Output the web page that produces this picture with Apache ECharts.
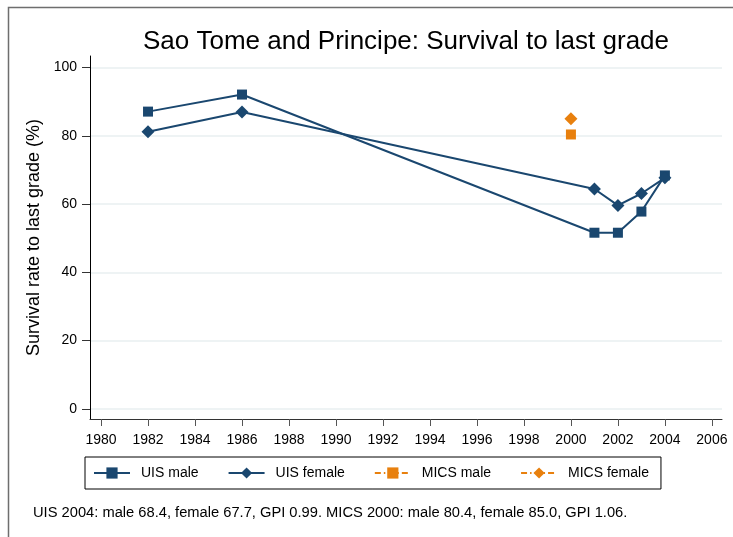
<!DOCTYPE html>
<html>
<head>
<meta charset="utf-8">
<script src="https://cdn.jsdelivr.net/npm/echarts@6/dist/echarts.min.js"></script>
<style>
html,body{margin:0;padding:0;background:#fff;}
#chart{width:733px;height:537px;}
</style>
</head>
<body>
<div id="chart"></div>
<script>
// ---- data ----
const uisYears = [1982, 1986, 2001, 2002, 2003, 2004];
const uisMale = [87.1, 92.1, 51.6, 51.6, 57.8, 68.4];
const uisFemale = [81.2, 87.0, 64.4, 59.6, 63.1, 67.7];
const micsYears = [2000];
const micsMale = [80.4];
const micsFemale = [85.0];
const xTicks = [1980,1982,1984,1986,1988,1990,1992,1994,1996,1998,2000,2002,2004,2006];
const yTicks = [0,20,40,60,80,100];
const seriesNames = ['UIS male', 'UIS female', 'MICS male', 'MICS female'];
const titleText = 'Sao Tome and Principe: Survival to last grade';
const yAxisTitle = 'Survival rate to last grade (%)';
const footnote = 'UIS 2004: male 68.4, female 67.7, GPI 0.99. MICS 2000: male 80.4, female 85.0, GPI 1.06.';

const NAVY = '#1a476f';
const ORANGE = '#e8800e';
const FONT = '"Liberation Sans", Arial, Helvetica, sans-serif';

const pairs = (xs, ys) => xs.map((x, i) => [x, ys[i]]);

const chart = echarts.init(document.getElementById('chart'), null, {renderer: 'canvas'});
chart.setOption({
  animation: false,
  backgroundColor: '#fff',
  textStyle: {fontFamily: FONT},
  title: [
    {text: titleText, left: 401, top: 24, textAlign: 'center',
     textStyle: {fontFamily: FONT, fontSize: 26, fontWeight: 'normal', color: '#000'}},
    {text: footnote, left: 28, top: 500,
     textStyle: {fontFamily: FONT, fontSize: 14.7, fontWeight: 'normal', color: '#000'}}
  ],
  graphic: [
    {type: 'rect', left: 6, top: 5, shape: {x: 0, y: 0, width: 760, height: 560},
     style: {fill: 'none', stroke: '#6e6e6e', lineWidth: 1.5}, silent: true, z: -1}
  ],
  grid: {left: 90, right: 11, top: 56, bottom: 118, containLabel: false},
  legend: {
    data: seriesNames,
    left: 85, top: 457,
    orient: 'horizontal',
    borderColor: '#000', borderWidth: 1,
    padding: [9, 12, 9, 8],
    itemWidth: 36, itemHeight: 14, itemGap: 29,
    textStyle: {fontFamily: FONT, fontSize: 14, color: '#000', padding: [0, 0, 0, 6]}
  },
  xAxis: {
    type: 'value', min: 1979.53, max: 2006.43,
    axisLine: {show: true, onZero: false, lineStyle: {color: '#333', width: 1}},
    axisTick: {show: true, length: 7, customValues: xTicks, lineStyle: {color: '#555', width: 1}},
    axisLabel: {customValues: xTicks, margin: 14, fontSize: 14, fontFamily: FONT, color: '#000',
                formatter: v => String(v)},
    splitLine: {show: false}
  },
  yAxis: {
    type: 'value', min: -3, max: 103.4,
    name: yAxisTitle, nameLocation: 'middle', nameGap: 38, nameRotate: 90,
    nameTextStyle: {fontFamily: FONT, fontSize: 18, color: '#000'},
    axisLine: {show: true, onZero: false, lineStyle: {color: '#000', width: 1}},
    axisTick: {show: true, length: 8, customValues: yTicks, lineStyle: {color: '#333', width: 1}},
    axisLabel: {customValues: yTicks, margin: 13, fontSize: 14, fontFamily: FONT, color: '#000',
                formatter: v => String(v)},
    splitLine: {show: true, lineStyle: {color: '#e8eff1', width: 1.5}}
  },
  series: [
    {name: seriesNames[0], type: 'line', data: pairs(uisYears, uisMale),
     symbol: 'rect', symbolSize: 10, showSymbol: true,
     lineStyle: {color: NAVY, width: 2}, itemStyle: {color: NAVY}},
    {name: seriesNames[1], type: 'line', data: pairs(uisYears, uisFemale),
     symbol: 'diamond', symbolSize: 13, showSymbol: true,
     lineStyle: {color: NAVY, width: 2}, itemStyle: {color: NAVY}},
    {name: seriesNames[2], type: 'line', data: pairs(micsYears, micsMale),
     symbol: 'rect', symbolSize: 10, showSymbol: true,
     lineStyle: {color: ORANGE, width: 2, type: [6, 3, 1.5, 3]}, itemStyle: {color: ORANGE}},
    {name: seriesNames[3], type: 'line', data: pairs(micsYears, micsFemale),
     symbol: 'diamond', symbolSize: 13, showSymbol: true,
     lineStyle: {color: ORANGE, width: 2, type: [6, 3, 1.5, 3]}, itemStyle: {color: ORANGE}}
  ]
});
</script>
</body>
</html>
